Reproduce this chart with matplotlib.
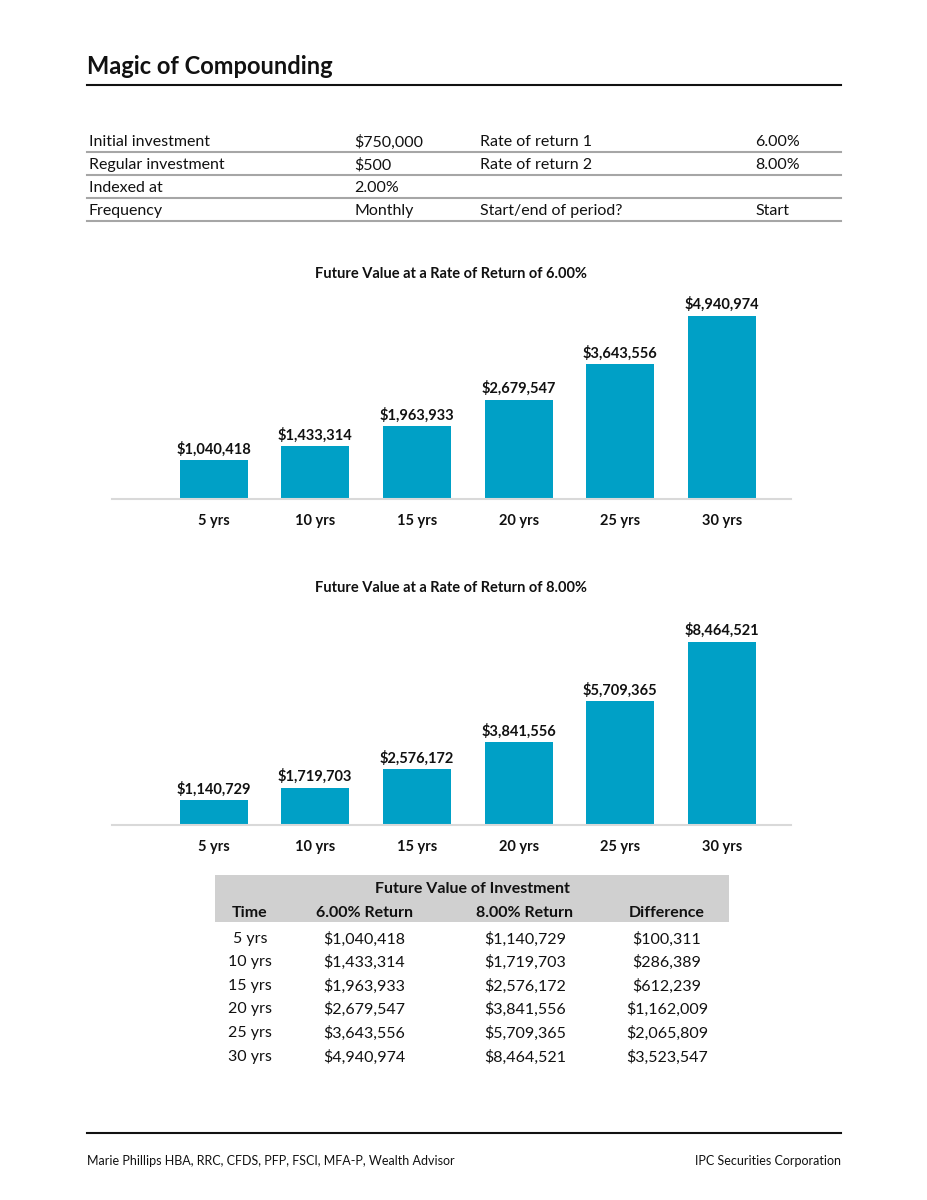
import matplotlib.pyplot as plt

plt.rcParams['font.family'] = ['Lato', 'DejaVu Sans']

W, H = 927, 1200

# data
periods = ['5 yrs', '10 yrs', '15 yrs', '20 yrs', '25 yrs', '30 yrs']
fv_6 = [1040418, 1433314, 1963933, 2679547, 3643556, 4940974]
fv_8 = [1140729, 1719703, 2576172, 3841556, 5709365, 8464521]
difference = [100311, 286389, 612239, 1162009, 2065809, 3523547]

inputs_left = [('Initial investment', '$750,000'),
               ('Regular investment', '$500'),
               ('Indexed at', '2.00%'),
               ('Frequency', 'Monthly')]
inputs_right = [('Rate of return 1', '6.00%'),
                ('Rate of return 2', '8.00%'),
                ('', ''),
                ('Start/end of period?', 'Start')]

BAR = '#00a0c6'
INK = '#111111'


def fx(px):
    return px / W


def fy(py):
    # text sits a touch high with va='center', nudge down
    return 1 - (py + 2) / H


def fyl(py):
    return 1 - py / H


def money(v):
    return f"${v:,.0f}"


fig = plt.figure(figsize=(W / 100, H / 100), dpi=100)

# header
fig.text(fx(87), fy(65), 'Magic of Compounding', fontsize=17, fontweight='bold',
         color=INK, va='center', ha='left')
fig.add_artist(plt.Line2D([fx(87), fx(841)], [fyl(85), fyl(85)], color=INK, lw=1.5))

# inputs table
row_y = [140, 163, 186, 209]
for (l1, v1), (l2, v2), y in zip(inputs_left, inputs_right, row_y):
    fig.text(fx(89), fy(y), l1, fontsize=11.5, color=INK, va='center')
    fig.text(fx(354), fy(y), v1, fontsize=11.5, color=INK, va='center')
    fig.text(fx(480), fy(y), l2, fontsize=11.5, color=INK, va='center')
    fig.text(fx(755), fy(y), v2, fontsize=11.5, color=INK, va='center')
    fig.add_artist(plt.Line2D([fx(87), fx(841)], [fyl(y + 11.5), fyl(y + 11.5)],
                              color='#a6a6a6', lw=1.5))


def bar_chart(values, title, title_y, base_y):
    left, right = 112, 791
    height = 209
    ax = fig.add_axes([fx(left), fyl(base_y), (right - left) / W, height / H])
    x = range(len(periods))
    ax.bar(x, values, width=0.67, color=BAR, zorder=2)
    for xi, v in zip(x, values):
        ax.annotate(money(v), (xi, v), xytext=(0, 2.5), textcoords='offset points',
                    ha='center', va='bottom', fontsize=10.5, fontweight='bold', color=INK)
    ax.set_xlim(-1.0, 5.68)
    ax.set_ylim(0, max(values) * 1.14)
    ax.set_xticks(list(x))
    ax.set_xticklabels(periods, fontsize=10.5, fontweight='bold', color=INK)
    ax.tick_params(axis='x', length=0, pad=10.5)
    ax.set_yticks([])
    for side in ['top', 'right', 'left']:
        ax.spines[side].set_visible(False)
    ax.spines['bottom'].set_color('#d9d9d9')
    ax.spines['bottom'].set_linewidth(1.5)
    ax.patch.set_alpha(0)
    fig.text(fx(451), fy(title_y), title, fontsize=10.5, fontweight='bold',
             color=INK, ha='center', va='center')
    return ax


bar_chart(fv_6, 'Future Value at a Rate of Return of 6.00%', 272, 499)
bar_chart(fv_8, 'Future Value at a Rate of Return of 8.00%', 586, 825)

# summary table
fig.add_artist(plt.Rectangle((fx(215), fyl(922)), (729 - 215) / W, (922 - 875) / H,
                             color='#d0d0d0', lw=0))
fig.text(fx(472), fy(887), 'Future Value of Investment', fontsize=11.5, fontweight='bold',
         color=INK, ha='center', va='center')
col_x = [250, 364, 525, 667]
headers = ['Time', '6.00% Return', '8.00% Return', 'Difference']
for cx, h in zip(col_x, headers):
    fig.text(fx(cx), fy(911), h, fontsize=11.5, fontweight='bold', color=INK,
             ha='center', va='center')
data_y = [937, 960, 984, 1007, 1031, 1055]
for i, y in enumerate(data_y):
    cells = [periods[i], money(fv_6[i]), money(fv_8[i]), money(difference[i])]
    for cx, c in zip(col_x, cells):
        fig.text(fx(cx), fy(y), c, fontsize=11.5, color=INK, ha='center', va='center')

# footer
fig.add_artist(plt.Line2D([fx(87), fx(841)], [fyl(1133), fyl(1133)], color=INK, lw=1.5))
fig.text(fx(87), fy(1159), 'Marie Phillips HBA, RRC, CFDS, PFP, FSCI, MFA-P, Wealth Advisor',
         fontsize=9, color=INK, va='center', ha='left')
fig.text(fx(841), fy(1159), 'IPC Securities Corporation', fontsize=9, color=INK,
         va='center', ha='right')

fig.savefig('out.png', dpi=100)
